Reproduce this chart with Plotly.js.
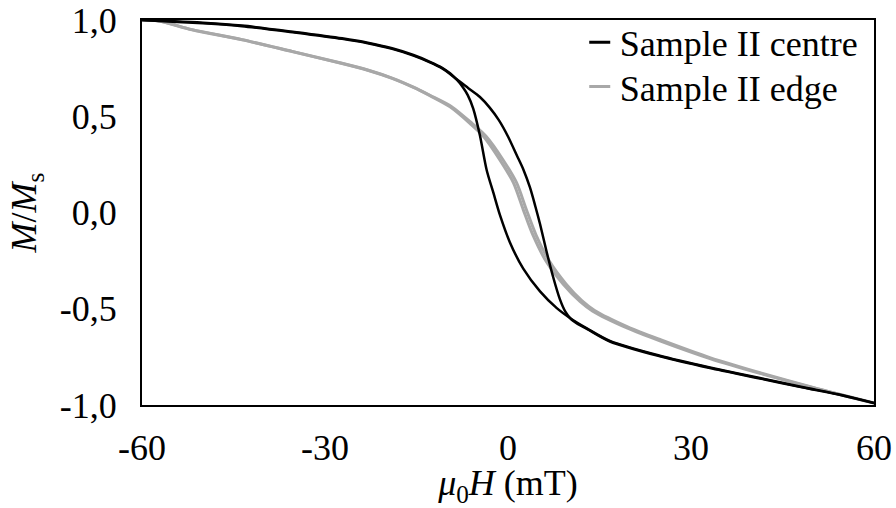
<!DOCTYPE html>
<html>
<head>
<meta charset="utf-8">
<script src="https://cdn.plot.ly/plotly-3.0.1.min.js"></script>
<style>
  html, body { margin: 0; padding: 0; background: #ffffff; }
  #chart { width: 896px; height: 508px; }
</style>
</head>
<body>
<div id="chart"></div>
<script>
// Sample II centre: branch switching at negative field
const centreH1 = [-60, -57.2, -50, -43.6, -35, -27.2, -23, -19.0, -15.5, -12.8, -10.8, -9.5, -8.4, -7.4, -6.6, -5.7, -4.6, -3.5, -2.4, -1.3, 0.3, 2.5, 5.25, 8.0, 10.2, 13.0, 16.7, 24.9, 33.1, 41.3, 48, 55, 60];
const centreM1 = [1.000, 0.995, 0.983, 0.968, 0.935, 0.902, 0.879, 0.850, 0.815, 0.780, 0.749, 0.720, 0.690, 0.651, 0.610, 0.540, 0.400, 0.221, 0.103, -0.015, -0.154, -0.292, -0.410, -0.497, -0.549, -0.603, -0.667, -0.744, -0.805, -0.860, -0.905, -0.950, -0.990];

// Sample II centre: branch switching at positive field
const centreH2 = [-60, -57.2, -50, -43.6, -35, -27.2, -23, -19.0, -15.5, -12.8, -10.8, -9.5, -8.4, -6.5, -4.6, -3.0, -1.5, 0, 1.4, 2.5, 3.6, 4.5, 5.25, 6.3, 7.4, 8.5, 9.4, 10.4, 11.5, 13.0, 16.7, 24.9, 33.1, 41.3, 48, 55, 60];
const centreM2 = [1.000, 0.997, 0.986, 0.971, 0.938, 0.905, 0.882, 0.853, 0.818, 0.783, 0.752, 0.723, 0.692, 0.646, 0.600, 0.545, 0.480, 0.395, 0.300, 0.225, 0.130, 0.030, -0.060, -0.200, -0.335, -0.450, -0.515, -0.556, -0.580, -0.606, -0.670, -0.747, -0.808, -0.862, -0.907, -0.952, -0.990];

// Sample II edge: two nearly coincident branches
const edgeH1 = [-60, -57.2, -51.8, -43.6, -35.4, -27.2, -23, -19.0, -15.5, -12.8, -9.5, -6.2, -4.0, -1.3, 0.9, 2.5, 4.1, 6.3, 9.1, 11.8, 13.9, 19.5, 24.9, 33.1, 41.3, 50, 60];
const edgeM1 = [1.000, 0.995, 0.949, 0.897, 0.836, 0.774, 0.739, 0.697, 0.650, 0.607, 0.549, 0.462, 0.395, 0.272, 0.154, 0.015, -0.118, -0.256, -0.374, -0.462, -0.513, -0.600, -0.667, -0.759, -0.836, -0.910, -0.990];
const edgeH2 = [-60, -57.2, -51.8, -43.6, -35.4, -27.2, -23, -19.0, -15.5, -12.8, -9.3, -5.9, -3.6, -0.8, 1.4, 3.0, 4.6, 6.8, 9.5, 12.1, 14.2, 19.7, 25.1, 33.2, 41.4, 50, 60];
const edgeM2 = [1.000, 0.995, 0.950, 0.898, 0.837, 0.775, 0.740, 0.698, 0.651, 0.609, 0.551, 0.463, 0.396, 0.273, 0.155, 0.016, -0.117, -0.254, -0.371, -0.458, -0.509, -0.595, -0.662, -0.755, -0.833, -0.909, -0.990];

const seriesNames = ['Sample II centre', 'Sample II edge'];
const seriesColors = ['#000000', '#a8a8a8'];

const xTickVals = [-60, -30, 0, 30, 60];
const xTickText = ['-60', '-30', '0', '30', '60'];
const yTickVals = [-1, -0.5, 0, 0.5, 1];
const yTickText = ['-1,0', '-0,5', '0,0', '0,5', '1,0'];

const serif = 'Liberation Serif, Times New Roman, serif';
const fontSize = 36;

function curve(x, y, color, width) {
  return {
    x: x, y: y, type: 'scatter', mode: 'lines',
    line: { color: color, width: width, shape: 'spline', smoothing: 0.8 },
    showlegend: false, hoverinfo: 'skip'
  };
}

// legend-only entries drawn as short dashes, one legend box per row
function legendEntry(name, color, legendId) {
  return {
    x: [null], y: [null], type: 'scatter', mode: 'markers', name: name,
    legend: legendId,
    marker: { symbol: 'line-ew', size: 15, color: color, line: { color: color, width: 3 } }
  };
}

const traces = [
  curve(edgeH1, edgeM1, seriesColors[1], 3),
  curve(edgeH2, edgeM2, seriesColors[1], 3),
  curve(centreH1, centreM1, seriesColors[0], 2.5),
  curve(centreH2, centreM2, seriesColors[0], 2.5),
  legendEntry(seriesNames[0], seriesColors[0], 'legend'),
  legendEntry(seriesNames[1], seriesColors[1], 'legend2')
];

function legendBox(yPos) {
  return {
    x: 0.598, y: yPos, xanchor: 'left', yanchor: 'top',
    bgcolor: 'rgba(0,0,0,0)', borderwidth: 0,
    font: { family: serif, size: fontSize, color: '#000000' },
    tracegroupgap: 0, itemsizing: 'trace'
  };
}

const layout = {
  width: 896, height: 508,
  margin: { l: 142, r: 22, t: 15, b: 103 },
  paper_bgcolor: '#ffffff', plot_bgcolor: '#ffffff',
  font: { family: serif, size: fontSize, color: '#000000' },
  showlegend: true,
  legend: legendBox(1.02),
  legend2: legendBox(0.905),
  xaxis: {
    range: [-60, 60], tickvals: xTickVals, ticktext: xTickText,
    ticks: '', showgrid: false, zeroline: false,
    showline: true, linecolor: '#000000', linewidth: 2, mirror: true,
    tickfont: { family: serif, size: fontSize, color: '#000000' },
    ticklabelstandoff: 10, ticklabeloverflow: 'allow',
    title: { text: '<i>μ</i><sub>0</sub><i>H</i> (mT)', font: { family: serif, size: fontSize }, standoff: 2 }
  },
  yaxis: {
    range: [-1, 1], tickvals: yTickVals, ticktext: yTickText,
    ticks: '', showgrid: false, zeroline: false,
    showline: true, linecolor: '#000000', linewidth: 2, mirror: true,
    tickfont: { family: serif, size: fontSize, color: '#000000' },
    ticklabelstandoff: 16, ticklabeloverflow: 'allow',
    title: { text: '<i>M</i>/<i>M</i><sub>s</sub>', font: { family: serif, size: fontSize }, standoff: 12 }
  }
};

Plotly.newPlot('chart', traces, layout, { displayModeBar: false, staticPlot: true });
</script>
</body>
</html>
